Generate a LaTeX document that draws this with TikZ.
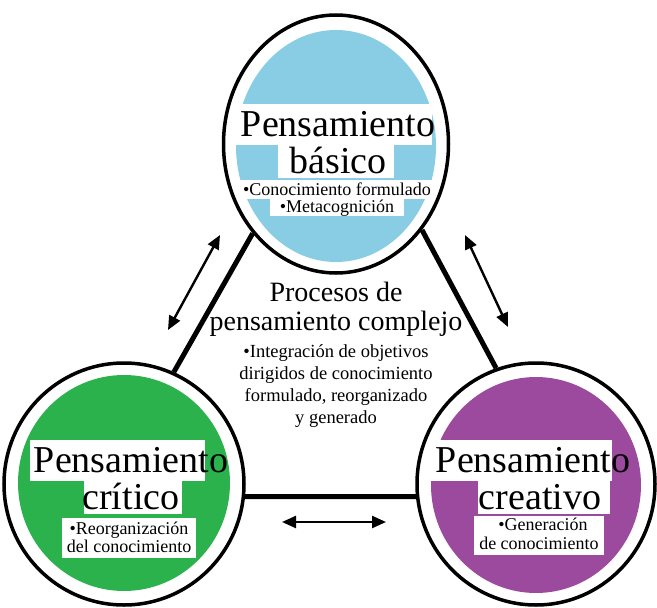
\documentclass[tikz,border=0pt]{standalone}
\usepackage{fontspec}
\setmainfont{Liberation Serif}
\usetikzlibrary{shapes.geometric,arrows.meta}
\definecolor{cblue}{RGB}{137,205,228}
\definecolor{cgreen}{RGB}{43,178,76}
\definecolor{cpurple}{RGB}{155,74,158}
\begin{document}
\begin{tikzpicture}[x=1pt,y=-1pt,
  ring/.style={ellipse, draw=black, line width=3.5pt, inner sep=0pt},
  link/.style={line width=5pt},
  twoway/.style={line width=2.4pt, {Triangle[length=14pt,width=12pt]}-{Triangle[length=14pt,width=12pt]}},
  big/.style={font=\fontsize{38}{34}\selectfont, align=center, inner sep=0pt, anchor=base},
  small/.style={font=\fontsize{18}{18}\selectfont, align=center, inner sep=0pt, anchor=base},
  mid/.style={font=\fontsize{28}{29}\selectfont, align=center, inner sep=0pt, anchor=base},
  midsmall/.style={font=\fontsize{18.5}{21.7}\selectfont, align=center, inner sep=0pt, anchor=base},
  blank/.style={fill=white},
]
\useasboundingbox (0,0) rectangle (657,608);
% colour fills with white patches behind the texts
\begin{scope}
\clip (336,144) ellipse [x radius=110, y radius=126];
\fill[cblue] (336,146) ellipse [x radius=100, y radius=116];
\fill[blank] (232,104) rectangle (432,145);
\fill[blank] (278,145) rectangle (394,178);
\fill[blank] (232,180) rectangle (442,199);
\fill[blank] (270,199) rectangle (404,216);
\end{scope}
\begin{scope}
\clip (124,484) ellipse [x radius=118, y radius=119];
\fill[cgreen] (124,483) ellipse [x radius=106, y radius=108];
\fill[blank] (30,440) rectangle (205,481);
\fill[blank] (84,481) rectangle (182,514);
\fill[blank] (62,518) rectangle (196,558);
\end{scope}
\begin{scope}
\clip (536,484) ellipse [x radius=117, y radius=119];
\fill[cpurple] (536,485) ellipse [x radius=105, y radius=108];
\fill[blank] (430,440) rectangle (612,481);
\fill[blank] (478,481) rectangle (610,514);
\fill[blank] (474,516) rectangle (604,555);
\end{scope}
% rings
\node[ring, minimum width=225pt, minimum height=258pt] (basico) at (336,144) {};
\node[ring, minimum width=240pt, minimum height=242pt] (critico) at (124,484) {};
\node[ring, minimum width=238pt, minimum height=242pt] (creativo) at (536,484) {};
% circle texts (base anchor = baseline of the last line)
\node[big] (t1) at (338,173) {Pensamiento\\[3pt]básico};
\node[small, font=\fontsize{18}{17}\selectfont] (t2) at (337,212) {•Conocimiento formulado\\•Metacognición};
\node[big] (g1) at (131,509) {Pensamiento\\[3pt]crítico};
\node[small] (g2) at (129,552) {•Reorganización\\del conocimiento};
\node[big] (p1) at (533,509) {Pensamiento\\[3pt]\hspace*{14pt}creativo};
\node[small] (p2) at (539,549) {\hspace*{8pt}•Generación\\[1pt]de conocimiento};
% links
\draw[link] (basico.227) -- (critico.66);
\draw[link] (basico.315) -- (creativo.109);
\draw[link] (critico.354) -- (creativo.186);
% arrows
\coordinate (la1) at (220,235);
\coordinate (la2) at (168,330);
\coordinate (ra1) at (465,235);
\coordinate (ra2) at (508,327);
\coordinate (ba1) at (282,522);
\coordinate (ba2) at (386,522);
\draw[twoway] (la1) -- (la2);
\draw[twoway] (ra1) -- (ra2);
\draw[twoway] (ba1) -- (ba2);
% middle text
\node[mid] (m1) at (336,330) {Procesos de\\pensamiento complejo};
\node[midsmall] (m2) at (336,423) {•Integración de objetivos\\dirigidos de conocimiento\\formulado, reorganizado\\y generado};
\end{tikzpicture}
\end{document}
